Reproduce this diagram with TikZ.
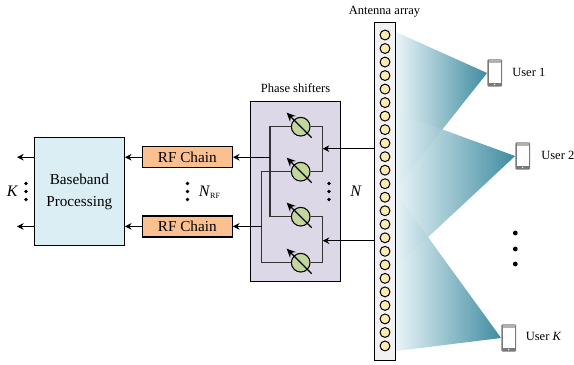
\documentclass[tikz,border=0pt]{standalone}
\usepackage{fontspec}
\setmainfont{Liberation Serif}
\usetikzlibrary{arrows.meta}
\definecolor{bbfill}{HTML}{DBEEF4}
\definecolor{rffill}{HTML}{FAC090}
\definecolor{psfill}{HTML}{DDD8E8}
\definecolor{psgreen}{HTML}{C3D69B}
\definecolor{elemfill}{HTML}{FDEBB0}
\definecolor{arrfill}{HTML}{F2F2F2}
\definecolor{beamdark}{HTML}{2F8298}
\definecolor{beamlight}{HTML}{E6F3F7}
\definecolor{phonegray}{HTML}{7A7A7A}
\begin{document}
\begin{tikzpicture}[x=0.75pt, y=-0.75pt,
    block/.style={draw, line width=0.9pt, font=\fontsize{11.4}{13}\selectfont, align=center, inner sep=0pt},
    sig/.style={-{Stealth[length=5pt,width=5pt]}, line width=0.75pt},
    wire/.style={line width=0.8pt, draw=black!80},
    shifter/.style={draw, circle, fill=psgreen, line width=0.8pt, minimum size=14pt, inner sep=0pt},
    turn/.style={-{Stealth[length=6.5pt,width=6pt]}, line width=1pt},
    elem/.style={draw, circle, fill=elemfill, line width=0.75pt, minimum size=7.4pt, inner sep=0pt},
    beam/.style={left color=beamlight, right color=beamdark, opacity=0.92},
    phone/.style={fill=phonegray, rounded corners=0.8pt, minimum width=11pt, minimum height=20.5pt, inner sep=0pt},
    lbl/.style={font=\fontsize{9.4}{11}\selectfont, inner sep=0pt},
    vdot/.style={circle, fill=black, minimum size=2.7pt, inner sep=0pt}]
  \useasboundingbox (0,0) rectangle (574,364);

  % Moviles
  \foreach \name/\px/\py in {ua/494.7/73, ub/522.7/156, uc/508.7/338} {
    \node[phone] (\name) at (\px,\py) {};
    \node[fill=white, minimum width=8.8pt, minimum height=14.5pt, inner sep=0pt] (\name s) at (\px,\py) {};
    \node[fill=black!30, minimum width=8.8pt, minimum height=2pt, inner sep=0pt, anchor=south] at (\name s.north) {};
    \node[fill=white, circle, minimum size=1pt, inner sep=0pt] at (\px,\py+11.6) {};
  }
  \node[lbl, anchor=west] (la) at (512,72.7) {User 1};
  \node[lbl, anchor=west] (lb) at (541,155.5) {User 2};
  \node[lbl, anchor=west] (lc) at (525.5,336) {User \textit{K}};

  % Haces
  \shade[beam] (396,32) -- (ua.west) -- (396,188) -- cycle;
  \shade[beam] (396,112.5) -- (ub.west) -- (396,267) -- cycle;
  \shade[beam] (396,193) -- (uc.west) -- (396,351) -- cycle;

  % Bloques
  \node[block, fill=bbfill, minimum width=67.5pt, minimum height=81pt] (bb) at (79.3,191.7) {Baseband\\[3pt]Processing};
  \node[block, fill=rffill, minimum width=67.5pt, minimum height=15.75pt] (rfa) at (187.3,157.2) {RF Chain};
  \node[block, fill=rffill, minimum width=67.5pt, minimum height=15.75pt] (rfb) at (187.3,226.4) {RF Chain};
  \node[draw, fill=psfill, line width=0.9pt, minimum width=67.8pt, minimum height=135pt, inner sep=0pt] (psbox) at (295.5,191.7) {};
  \node[lbl] (pslabel) at (295.5,88.5) {Phase shifters};

  % Arreglo
  \node[draw, fill=arrfill, line width=0.9pt, minimum width=16pt, minimum height=254pt, inner sep=0pt] (array) at (384.8,191.5) {};
  \node[lbl] (arrlabel) at (384.5,12) {Antenna array};
  \foreach \i in {1,...,24}
    \node[elem] (e\i) at (385,{35+(\i-1)*13.52}) {};

  % Desfasadores
  \node[shifter] (psa) at (300.7,126.7) {};
  \node[shifter] (psb) at (300.7,171.7) {};
  \node[shifter] (psc) at (300.7,216.7) {};
  \node[shifter] (psd) at (300.7,262.7) {};
  \coordinate (busa) at (322.7,148.7);
  \coordinate (busb) at (322.7,240.7);
  \coordinate (busc) at (270,157.2);
  \coordinate (busd) at (261.7,226.4);

  % Aristas
  \draw[wire] (psa.east) -| (busa) |- (psb.east);
  \draw[wire] (psc.east) -| (busb) |- (psd.east);
  \draw[wire] (psa.west) -| (busc) |- (psc.west);
  \draw[wire] (psb.west) -| (busd) |- (psd.west);
  \draw[sig] (array.west |- busa) -- (busa);
  \draw[sig] (array.west |- busb) -- (busb);
  \draw[sig] (busc) -- (rfa);
  \draw[sig] (busd) -- (rfb);
  \draw[sig] (rfa) -- (bb.east |- rfa);
  \draw[sig] (rfb) -- (bb.east |- rfb);
  \coordinate (outa) at (17,157.2);
  \coordinate (outb) at (17,226.4);
  \draw[sig] (bb.west |- outa) -- (outa);
  \draw[sig] (bb.west |- outb) -- (outb);
  \foreach \n in {psa,psb,psc,psd}
    \draw[turn] ([shift={(11,11)}]\n.center) -- ([shift={(-14,-14)}]\n.center);

  % Puntos y etiquetas
  \foreach \py in {183.5,191.5,199.5} {
    \node[vdot] at (26,\py) {};
    \node[vdot] at (187.5,\py) {};
    \node[vdot] at (329,\py) {};
  }
  \foreach \py in {233,249,264}
    \node[vdot, minimum size=3.6pt] at (515.3,\py) {};
  \node[font=\fontsize{12}{14}\selectfont, inner sep=0pt] (kl) at (12.5,191) {\textit{K}};
  \node[font=\fontsize{12}{14}\selectfont, inner sep=0pt] (nl) at (356,191) {\textit{N}};
  \node[font=\fontsize{12}{14}\selectfont, inner sep=0pt, anchor=west] (nrf) at (198.5,192) {\textit{N}$_{\textup{\fontsize{6}{7}\selectfont RF}}$};
\end{tikzpicture}
\end{document}
